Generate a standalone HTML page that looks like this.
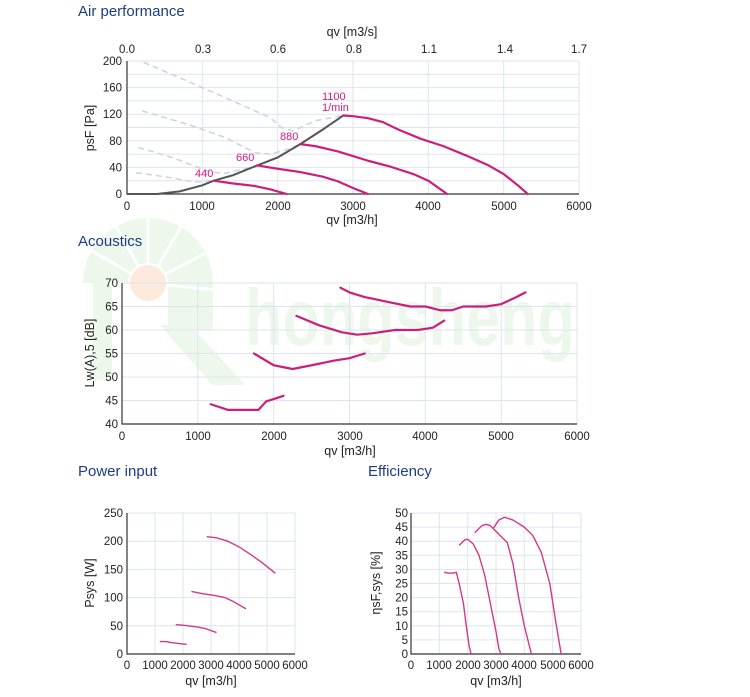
<!DOCTYPE html>
<html><head><meta charset="utf-8"><style>
body{margin:0;background:#fff;}
svg{display:block;font-family:"Liberation Sans",Arial,sans-serif;}
.t{fill:#1f3c88;font-size:15px;}
.a{font-size:11.5px;fill:#222;}
.g{stroke:#dde4ef;stroke-width:1;}
.ax{stroke:#333;stroke-width:1.2;fill:none;}
.c{fill:none;stroke:#cc1f7c;stroke-width:2.2;vector-effect:non-scaling-stroke;stroke-linejoin:round;stroke-linecap:round;}
.c2{fill:none;stroke:#d4388a;stroke-width:1.4;vector-effect:non-scaling-stroke;stroke-linejoin:round;}
.gr{fill:none;stroke:#555;stroke-width:2;vector-effect:non-scaling-stroke;}
.ds{fill:none;stroke:#c8d4e2;stroke-width:1.5;stroke-dasharray:6 4;vector-effect:non-scaling-stroke;}
.m{fill:#d6197e;font-size:11px;}
</style></head><body>
<svg width="750" height="697" viewBox="0 0 750 697">
<!-- watermark -->
<g>
<path d="M93 262 L112 262 L112 380 L93 380 Z" fill="#eef7ec"/>
<path d="M83 283 A65 65 0 0 1 213 283 L213 330 L168 330 L168 283 A20 20 0 0 0 128 283 Z" fill="#eef7ec"/>
<g stroke="#fff" stroke-width="3">
<line x1="148" y1="283" x2="90" y2="250"/><line x1="148" y1="283" x2="115" y2="225"/><line x1="148" y1="283" x2="148" y2="215"/><line x1="148" y1="283" x2="182" y2="225"/><line x1="148" y1="283" x2="208" y2="252"/><line x1="148" y1="283" x2="215" y2="290"/>
</g>
<circle cx="148" cy="283" r="18" fill="#fdeadc"/>
<path d="M160 325 L190 325 L245 385 L212 385 Z" fill="#eef7ec"/>
<text x="245" y="345" font-size="80" font-weight="bold" fill="#eef7ec" textLength="330" lengthAdjust="spacingAndGlyphs">hongsheng</text>
</g>

<text class="t" x="78" y="16">Air performance</text>
<text class="t" x="78" y="246">Acoustics</text>
<text class="t" x="78" y="476">Power input</text>
<text class="t" x="368" y="476">Efficiency</text>

<!-- Chart 1 -->
<g>
<g class="g">
<line x1="127" y1="61" x2="579" y2="61"/><line x1="127" y1="74.3" x2="579" y2="74.3"/><line x1="127" y1="87.6" x2="579" y2="87.6"/><line x1="127" y1="100.9" x2="579" y2="100.9"/><line x1="127" y1="114.2" x2="579" y2="114.2"/><line x1="127" y1="127.5" x2="579" y2="127.5"/><line x1="127" y1="140.8" x2="579" y2="140.8"/><line x1="127" y1="154.1" x2="579" y2="154.1"/><line x1="127" y1="167.4" x2="579" y2="167.4"/><line x1="127" y1="180.7" x2="579" y2="180.7"/>
<line x1="202.3" y1="61" x2="202.3" y2="194"/><line x1="277.7" y1="61" x2="277.7" y2="194"/><line x1="353" y1="61" x2="353" y2="194"/><line x1="428.3" y1="61" x2="428.3" y2="194"/><line x1="503.7" y1="61" x2="503.7" y2="194"/><line x1="579" y1="61" x2="579" y2="194"/>
</g>
<path class="ax" d="M127 61 V194 H579"/>
<g class="a" text-anchor="end">
<text x="122" y="65">200</text><text x="122" y="91.6">160</text><text x="122" y="118.2">120</text><text x="122" y="144.8">80</text><text x="122" y="171.4">40</text><text x="122" y="198">0</text></g>
<g class="a" text-anchor="middle">
<text x="127" y="210">0</text><text x="202" y="210">1000</text><text x="278" y="210">2000</text><text x="353" y="210">3000</text><text x="428" y="210">4000</text><text x="504" y="210">5000</text><text x="579" y="210">6000</text>
<text x="352" y="224" font-size="12.5">qv [m3/h]</text>
<text x="127" y="53">0.0</text><text x="203" y="53">0.3</text><text x="278" y="53">0.6</text><text x="354" y="53">0.8</text><text x="429" y="53">1.1</text><text x="505" y="53">1.4</text><text x="579" y="53">1.7</text>
<text x="352" y="36" font-size="12.5">qv [m3/s]</text>
<text transform="translate(94,128) rotate(-90)" font-size="12.5">psF [Pa]</text>
</g>
<g transform="translate(127,194) scale(0.07533,-0.665)">
<polyline class="ds" points="220,198 800,170 1400,140 1900,115 2050,100 2200,95 2500,110 2870,118"/>
<polyline class="ds" points="200,125 800,105 1300,85 1700,62 1900,60 2100,66 2300,75"/>
<polyline class="ds" points="150,70 600,55 1100,33 1300,31 1500,36 1730,43"/>
<polyline class="ds" points="120,32 500,26 900,18 1150,20"/>
<polyline class="gr" points="0,0 400,0 700,4 1000,13 1150,20 1400,28 1730,43 2000,55 2300,75 2600,97 2870,118"/>
<polyline class="c" points="2870,118 3000,117 3200,114 3400,108 3600,97 3900,83 4200,72 4500,58 4800,43 5000,30 5200,12 5320,0"/>
<polyline class="c" points="2300,75 2500,72 2800,64 3000,57 3200,50 3500,41 3800,30 4000,20 4250,0"/>
<polyline class="c" points="1730,43 2000,38 2300,33 2600,26 2800,19 3000,9 3200,0"/>
<polyline class="c" points="1150,20 1400,16 1700,12 1900,7 2120,0"/>
</g>
<text class="m" x="322" y="100">1100</text><text class="m" x="322" y="111">1/min</text>
<text class="m" x="280" y="140">880</text><text class="m" x="236" y="161">660</text><text class="m" x="195" y="177">440</text>
</g>

<!-- Chart 2 -->
<g>
<g class="g">
<line x1="122" y1="283" x2="577" y2="283"/><line x1="122" y1="306.5" x2="577" y2="306.5"/><line x1="122" y1="330" x2="577" y2="330"/><line x1="122" y1="353.5" x2="577" y2="353.5"/><line x1="122" y1="377" x2="577" y2="377"/><line x1="122" y1="400.5" x2="577" y2="400.5"/>
<line x1="197.8" y1="283" x2="197.8" y2="424"/><line x1="273.7" y1="283" x2="273.7" y2="424"/><line x1="349.5" y1="283" x2="349.5" y2="424"/><line x1="425.3" y1="283" x2="425.3" y2="424"/><line x1="501.2" y1="283" x2="501.2" y2="424"/><line x1="577" y1="283" x2="577" y2="424"/>
</g>
<path class="ax" d="M122 283 V424 H577"/>
<g class="a" text-anchor="end">
<text x="118" y="287">70</text><text x="118" y="310.5">65</text><text x="118" y="334">60</text><text x="118" y="357.5">55</text><text x="118" y="381">50</text><text x="118" y="404.5">45</text><text x="118" y="428">40</text></g>
<g class="a" text-anchor="middle">
<text x="122" y="440">0</text><text x="198" y="440">1000</text><text x="274" y="440">2000</text><text x="350" y="440">3000</text><text x="425" y="440">4000</text><text x="501" y="440">5000</text><text x="577" y="440">6000</text>
<text x="350" y="455" font-size="12.5">qv [m3/h]</text>
<text transform="translate(94,353) rotate(-90)" font-size="12.5">Lw(A),5 [dB]</text>
</g>
<g transform="translate(122,424) scale(0.07583,-4.7)">
<polyline class="c" points="2880,29 3000,28 3200,27 3500,26 3800,25 4000,25 4200,24.2 4350,24.2 4500,25 4800,25 5000,25.5 5200,27 5320,28"/>
<polyline class="c" points="2300,23 2600,21 2900,19.5 3100,19 3300,19.3 3600,20 3900,20 4100,20.5 4250,22"/>
<polyline class="c" points="1740,15 2000,12.5 2250,11.7 2500,12.5 2800,13.5 3000,14 3200,15"/>
<polyline class="c" points="1170,4.2 1400,3 1600,3 1800,3 1900,4.8 2000,5.3 2130,6"/>
</g>
</g>

<!-- Chart 3 -->
<g>
<g class="g">
<line x1="127" y1="513" x2="295" y2="513"/><line x1="127" y1="541.2" x2="295" y2="541.2"/><line x1="127" y1="569.4" x2="295" y2="569.4"/><line x1="127" y1="597.6" x2="295" y2="597.6"/><line x1="127" y1="625.8" x2="295" y2="625.8"/>
<line x1="155" y1="513" x2="155" y2="654"/><line x1="183" y1="513" x2="183" y2="654"/><line x1="211" y1="513" x2="211" y2="654"/><line x1="239" y1="513" x2="239" y2="654"/><line x1="267" y1="513" x2="267" y2="654"/><line x1="295" y1="513" x2="295" y2="654"/>
</g>
<path class="ax" d="M127 513 V654 H295"/>
<g class="a" text-anchor="end">
<text x="123" y="517">250</text><text x="123" y="545.2">200</text><text x="123" y="573.4">150</text><text x="123" y="601.6">100</text><text x="123" y="629.8">50</text><text x="123" y="658">0</text></g>
<g class="a" text-anchor="middle">
<text x="127" y="669">0</text><text x="155" y="669">1000</text><text x="183" y="669">2000</text><text x="211" y="669">3000</text><text x="239" y="669">4000</text><text x="267" y="669">5000</text><text x="295" y="669">6000</text>
<text x="211" y="685" font-size="12.5">qv [m3/h]</text>
<text transform="translate(94,583) rotate(-90)" font-size="12.5">Psys [W]</text>
</g>
<g transform="translate(127,654) scale(0.028,-0.564)">
<polyline class="c2" points="2850,208 3200,206 3600,200 4000,190 4400,177 4800,163 5300,143"/>
<polyline class="c2" points="2300,111 2700,107 3100,104 3500,100 3800,93 4250,80"/>
<polyline class="c2" points="1740,52 2000,51 2500,48 2800,45 3200,38"/>
<polyline class="c2" points="1170,22 1400,22 1600,20 1800,19 2130,17"/>
</g>
</g>

<!-- Chart 4 -->
<g>
<g class="g">
<line x1="411" y1="513" x2="581" y2="513"/><line x1="411" y1="527.1" x2="581" y2="527.1"/><line x1="411" y1="541.2" x2="581" y2="541.2"/><line x1="411" y1="555.3" x2="581" y2="555.3"/><line x1="411" y1="569.4" x2="581" y2="569.4"/><line x1="411" y1="583.5" x2="581" y2="583.5"/><line x1="411" y1="597.6" x2="581" y2="597.6"/><line x1="411" y1="611.7" x2="581" y2="611.7"/><line x1="411" y1="625.8" x2="581" y2="625.8"/><line x1="411" y1="639.9" x2="581" y2="639.9"/>
<line x1="439.3" y1="513" x2="439.3" y2="654"/><line x1="467.7" y1="513" x2="467.7" y2="654"/><line x1="496" y1="513" x2="496" y2="654"/><line x1="524.3" y1="513" x2="524.3" y2="654"/><line x1="552.7" y1="513" x2="552.7" y2="654"/><line x1="581" y1="513" x2="581" y2="654"/>
</g>
<path class="ax" d="M411 513 V654 H581"/>
<g class="a" text-anchor="end">
<text x="408" y="517">50</text><text x="408" y="531.1">45</text><text x="408" y="545.2">40</text><text x="408" y="559.3">35</text><text x="408" y="573.4">30</text><text x="408" y="587.5">25</text><text x="408" y="601.6">20</text><text x="408" y="615.7">15</text><text x="408" y="629.8">10</text><text x="408" y="643.9">5</text><text x="408" y="658">0</text></g>
<g class="a" text-anchor="middle">
<text x="411" y="669">0</text><text x="439" y="669">1000</text><text x="468" y="669">2000</text><text x="496" y="669">3000</text><text x="524" y="669">4000</text><text x="553" y="669">5000</text><text x="581" y="669">6000</text>
<text x="496" y="685" font-size="12.5">qv [m3/h]</text>
<text transform="translate(380,583) rotate(-90)" font-size="12.5">ηsF,sys [%]</text>
</g>
<g transform="translate(411,654) scale(0.02833,-2.82)">
<polyline class="c2" points="1170,29 1300,28.7 1500,28.7 1600,29 1700,25 1850,18 1950,10 2050,3 2120,0"/>
<polyline class="c2" points="1700,38.5 1900,40.5 2000,40.7 2200,39 2400,35 2600,28 2800,18 3000,8 3100,2 3170,0"/>
<polyline class="c2" points="2250,43 2500,45.5 2650,46 2800,45.5 3000,43.5 3200,41.5 3400,39.5 3600,32 3800,20 4000,10 4200,2 4250,0"/>
<polyline class="c2" points="2900,44.5 3100,47.5 3300,48.5 3600,47.5 4000,45 4300,42 4600,36 4900,25 5100,12 5250,3 5300,0"/>
</g>
</g>
</svg>
</body></html>
